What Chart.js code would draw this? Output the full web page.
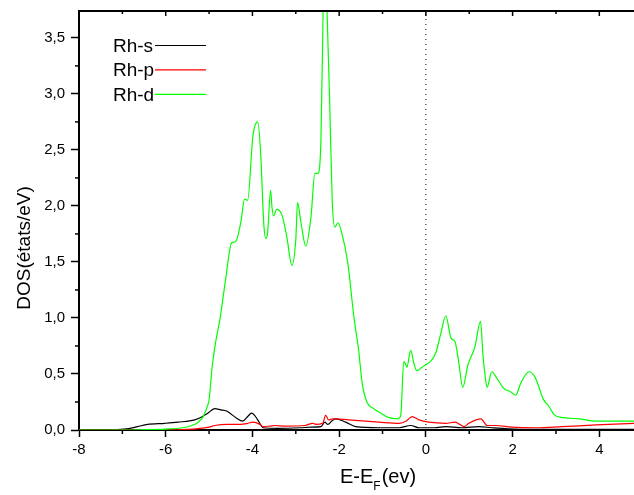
<!DOCTYPE html>
<html>
<head>
<meta charset="utf-8">
<script src="https://cdn.jsdelivr.net/npm/chart.js@4.4.1/dist/chart.umd.min.js"></script>
<style>
  html, body { margin: 0; padding: 0; background: #fff; }
  #wrap { width: 634px; height: 495px; position: relative; }
</style>
</head>
<body>
<div id="wrap"><canvas id="dos"></canvas></div>
<script>
// Rh partial DOS
const sE   = [-8, -7.2, -6.9, -6.65, -6.42, -6.02, -5.72, -5.33, -5.15, -5.03, -4.87, -4.73, -4.6, -4.52, -4.38, -4.22, -4.11, -4.02, -3.95, -3.83, -3.76, -3.41, -2.9, -2.65, -2.42, -2.33, -2.26, -2.17, -2.08, -1.85, -1.62, -1.08, -0.62, -0.35, -0.16, 0.2, 0.46, 0.83, 1.22, 1.52, 1.9, 2.5, 4.8];
const sDos = [0, 0.002, 0.01, 0.03, 0.05, 0.06, 0.07, 0.09, 0.12, 0.15, 0.19, 0.18, 0.17, 0.15, 0.11, 0.08, 0.12, 0.15, 0.13, 0.06, 0.02, 0.015, 0.02, 0.025, 0.03, 0.07, 0.05, 0.08, 0.10, 0.07, 0.03, 0.02, 0.02, 0.04, 0.02, 0.02, 0.03, 0.02, 0.03, 0.02, 0.01, 0.005, 0.005];

const pE   = [-8, -6, -5.5, -5.2, -5.0, -4.87, -4.57, -4.27, -4.1, -3.99, -3.83, -3.76, -3.6, -3.48, -3.25, -2.79, -2.61, -2.54, -2.38, -2.31, -2.24, -2.15, -2.08, -1.78, -1.08, -0.62, -0.45, -0.32, -0.16, 0.07, 0.46, 0.67, 0.78, 0.88, 0.99, 1.27, 1.41, 1.61, 1.98, 2.54, 3.14, 3.92, 4.8];
const pDos = [0, 0, 0.005, 0.015, 0.025, 0.04, 0.05, 0.05, 0.06, 0.07, 0.05, 0.03, 0.035, 0.04, 0.035, 0.04, 0.06, 0.05, 0.06, 0.13, 0.09, 0.10, 0.10, 0.09, 0.07, 0.06, 0.08, 0.12, 0.09, 0.07, 0.06, 0.07, 0.05, 0.03, 0.06, 0.10, 0.04, 0.04, 0.025, 0.02, 0.03, 0.045, 0.06];

const dE   = [-8, -7, -6.5, -6, -5.6, -5.4, -5.25, -5.15, -5.05, -5.0, -4.93, -4.85, -4.74, -4.62, -4.48, -4.39, -4.27, -4.18, -4.11, -3.99, -3.88, -3.81, -3.74, -3.69, -3.65, -3.58, -3.55, -3.51, -3.44, -3.32, -3.21, -3.09, -3.0, -2.96, -2.88, -2.77, -2.65, -2.56, -2.49, -2.42, -2.37, -2.33, -2.28, -2.22, -2.16, -2.10, -2.03, -1.94, -1.80, -1.66, -1.55, -1.47, -1.36, -1.2, -1.08, -0.85, -0.64, -0.58, -0.51, -0.46, -0.44, -0.35, -0.28, -0.21, -0.09, 0.23, 0.35, 0.46, 0.58, 0.67, 0.76, 0.85, 0.97, 1.13, 1.26, 1.32, 1.36, 1.41, 1.52, 1.64, 1.80, 1.96, 2.07, 2.19, 2.38, 2.52, 2.61, 2.70, 2.84, 2.95, 3.18, 3.53, 3.92, 4.8];
const dDos = [0, 0, 0.003, 0.008, 0.02, 0.04, 0.07, 0.11, 0.2, 0.27, 0.56, 0.78, 1.01, 1.34, 1.67, 1.68, 1.85, 2.06, 2.05, 2.62, 2.75, 2.47, 1.85, 1.71, 1.76, 2.14, 1.99, 1.91, 1.97, 1.92, 1.73, 1.47, 1.70, 2.03, 1.85, 1.64, 1.90, 2.29, 2.29, 2.59, 3.75, 4.6, 3.75, 2.95, 2.05, 1.81, 1.85, 1.76, 1.49, 1.01, 0.71, 0.42, 0.25, 0.19, 0.16, 0.11, 0.10, 0.13, 0.61, 0.58, 0.56, 0.71, 0.60, 0.53, 0.56, 0.69, 0.87, 1.02, 0.82, 0.79, 0.60, 0.38, 0.58, 0.74, 0.97, 0.65, 0.51, 0.38, 0.52, 0.46, 0.37, 0.34, 0.31, 0.42, 0.52, 0.47, 0.38, 0.28, 0.21, 0.14, 0.11, 0.10, 0.08, 0.08];

const labels = ['Rh-s', 'Rh-p', 'Rh-d'];
const colors = ['#000000', '#ff0000', '#00ff00'];

const xMin = -8, xMax = 4.8;
const yMin = 0, yMax = 3.74;
const fermi = 0;

const FONT = '"Liberation Sans", Arial, sans-serif';

function pts(xs, ys) {
  return xs.map((x, i) => ({ x: x, y: ys[i] }));
}

function curve(i, xs, ys) {
  return {
    label: labels[i],
    data: pts(xs, ys),
    borderColor: colors[i],
    borderWidth: 1.2,
    pointRadius: 0,
    cubicInterpolationMode: 'monotone',
    fill: false
  };
}

// minor ticks, top axis, legend and axis titles
const decorations = {
  id: 'decorations',
  afterDraw(chart) {
    const ctx = chart.ctx;
    const area = chart.chartArea;
    const xs = chart.scales.x;
    const ys = chart.scales.y;
    ctx.save();
    ctx.strokeStyle = '#000';
    ctx.lineWidth = 1.5;

    // minor y ticks
    for (let v = 0.25; v < yMax; v += 0.5) {
      const py = ys.getPixelForValue(v);
      ctx.beginPath();
      ctx.moveTo(area.left - 4, py);
      ctx.lineTo(area.left, py);
      ctx.stroke();
    }
    // minor x ticks
    for (let v = -7; v < xMax; v += 2) {
      const px = xs.getPixelForValue(v);
      ctx.beginPath();
      ctx.moveTo(px, area.bottom);
      ctx.lineTo(px, area.bottom + 4);
      ctx.stroke();
    }
    // top axis with inward ticks
    ctx.lineWidth = 2;
    ctx.beginPath();
    ctx.moveTo(area.left, area.top);
    ctx.lineTo(area.right, area.top);
    ctx.stroke();
    ctx.lineWidth = 1.5;
    for (let v = -7; v < xMax; v += 1) {
      const px = xs.getPixelForValue(v);
      const len = (v % 2 === 0) ? 5 : 3;
      ctx.beginPath();
      ctx.moveTo(px, area.top);
      ctx.lineTo(px, area.top + len);
      ctx.stroke();
    }

    // legend: text then line sample
    ctx.font = '19px ' + FONT;
    ctx.fillStyle = '#000';
    ctx.textAlign = 'left';
    ctx.textBaseline = 'alphabetic';
    ctx.lineWidth = 1.2;
    for (let i = 0; i < labels.length; i++) {
      const base = 52 + i * 24.4;
      ctx.fillText(labels[i], 113, base);
      ctx.strokeStyle = colors[i];
      ctx.beginPath();
      ctx.moveTo(155, base - 6.5);
      ctx.lineTo(206, base - 6.5);
      ctx.stroke();
    }

    // x title with subscript F
    ctx.fillStyle = '#000';
    ctx.font = '20px ' + FONT;
    let tx = 340;
    ctx.fillText('E-E', tx, 483);
    tx += ctx.measureText('E-E').width;
    ctx.font = '12px ' + FONT;
    ctx.fillText('F', tx, 490);
    tx += ctx.measureText('F').width + 1;
    ctx.font = '20px ' + FONT;
    ctx.fillText('(ev)', tx, 483);

    // y title
    ctx.translate(30, 248);
    ctx.rotate(-Math.PI / 2);
    ctx.textAlign = 'center';
    ctx.font = '19px ' + FONT;
    ctx.fillText('DOS(\u00e9tats/eV)', 0, 0);
    ctx.restore();
  }
};

new Chart(document.getElementById('dos'), {
  type: 'line',
  data: {
    datasets: [
      curve(2, dE, dDos),
      curve(1, pE, pDos),
      curve(0, sE, sDos),
      {
        label: 'EF',
        data: [{ x: fermi, y: yMin }, { x: fermi, y: yMax }],
        borderColor: '#000',
        borderWidth: 1,
        borderDash: [1, 4],
        pointRadius: 0
      }
    ]
  },
  options: {
    responsive: true,
    maintainAspectRatio: false,
    animation: false,
    layout: { padding: { top: 11, right: 0, bottom: 0, left: 0 } },
    plugins: {
      legend: { display: false },
      tooltip: { enabled: false }
    },
    scales: {
      x: {
        type: 'linear',
        min: xMin,
        max: xMax,
        afterFit: s => { s.height = 65; s.paddingLeft = 0; s.paddingRight = 0; },
        border: { display: true, color: '#000', width: 2 },
        grid: { drawOnChartArea: false, drawTicks: true, tickLength: 7, color: '#000', tickWidth: 1.5 },
        ticks: {
          stepSize: 2,
          includeBounds: false,
          padding: 4,
          color: '#000',
          font: { family: FONT, size: 15 },
          maxRotation: 0,
          callback: v => String(v)
        }
      },
      y: {
        min: yMin,
        max: yMax,
        afterFit: s => { s.width = 79; s.paddingTop = 0; s.paddingBottom = 0; },
        border: { display: true, color: '#000', width: 2 },
        grid: { drawOnChartArea: false, drawTicks: true, tickLength: 8, color: '#000', tickWidth: 1.5 },
        ticks: {
          stepSize: 0.5,
          includeBounds: false,
          padding: 6,
          color: '#000',
          font: { family: FONT, size: 15 },
          callback: v => v.toFixed(1).replace('.', ',')
        }
      }
    }
  },
  plugins: [decorations]
});
</script>
</body>
</html>
